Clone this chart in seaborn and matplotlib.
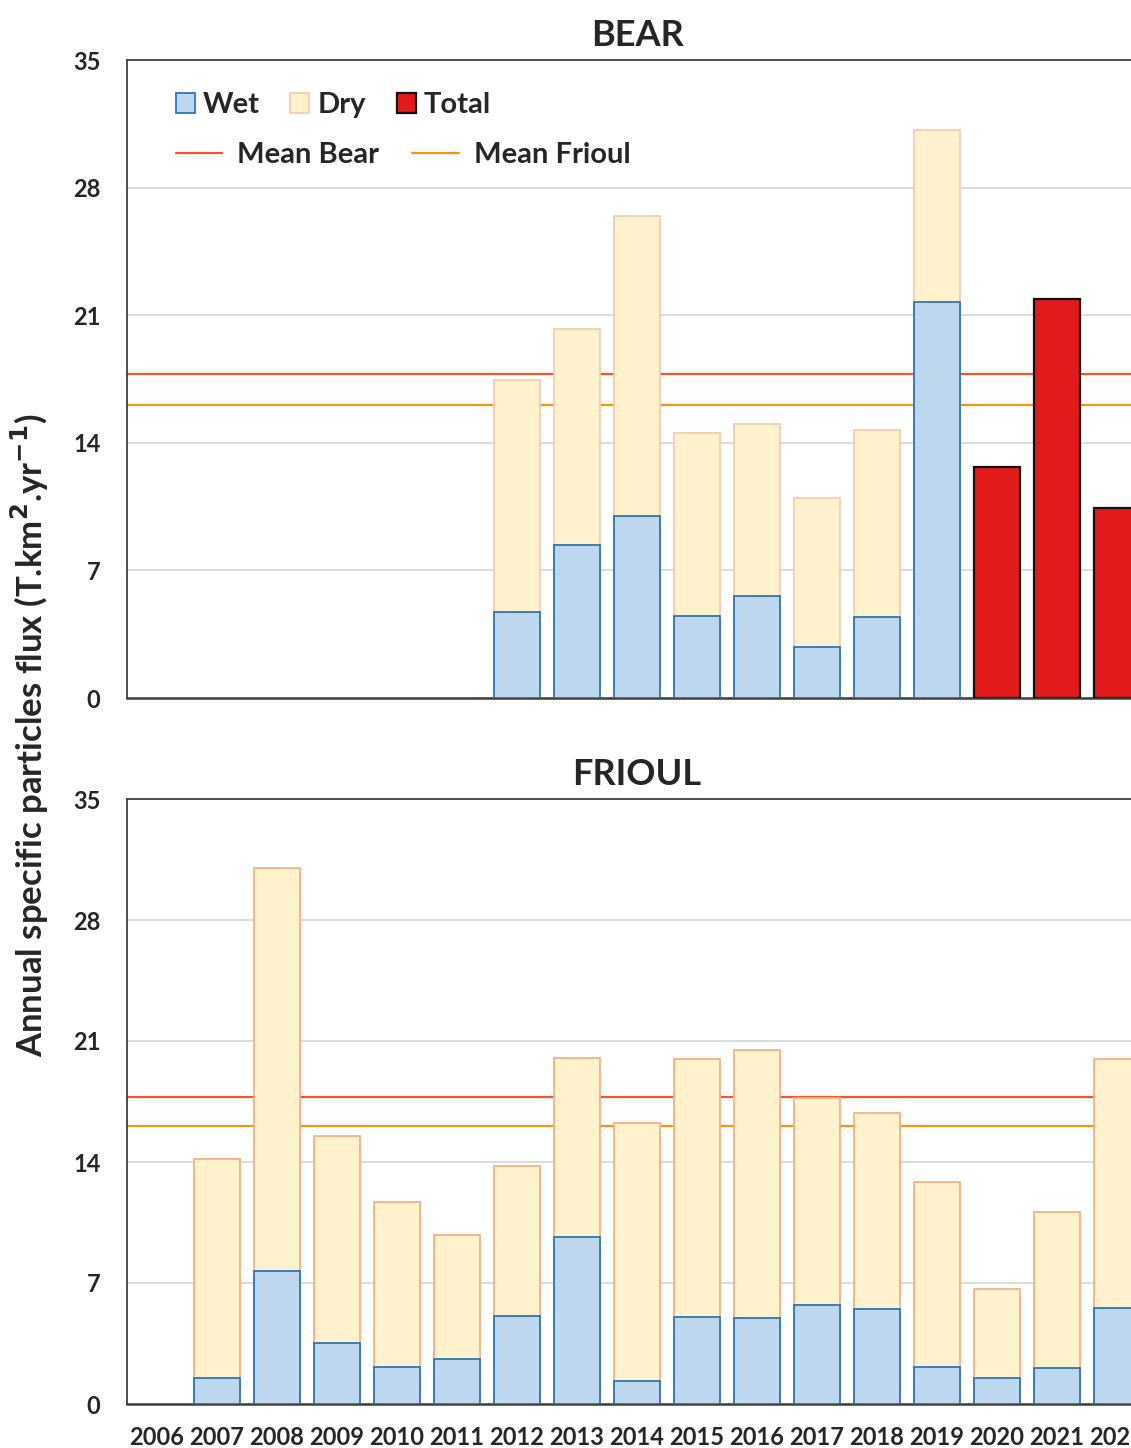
import matplotlib
matplotlib.use("Agg")
import matplotlib.pyplot as plt
import seaborn as sns
import numpy as np
import pandas as pd
from matplotlib.patches import Patch
from matplotlib.lines import Line2D

YEARS = [str(y) for y in range(2006, 2023)]

# BEAR
BEAR_YEARS = ['2012', '2013', '2014', '2015', '2016', '2017', '2018', '2019']
BEAR_WET = [4.72, 8.38, 10.0, 4.48, 5.58, 2.80, 4.45, 21.7]
BEAR_TOTAL = [17.45, 20.25, 26.45, 14.52, 15.02, 10.97, 14.7, 31.15]
BEAR_ONLY_TOTAL_YEARS = ['2020', '2021', '2022']
BEAR_ONLY_TOTAL = [12.67, 21.87, 10.4]

# FRIOUL
FRIOUL_YEARS = [str(y) for y in range(2007, 2023)]
FRIOUL_WET = [1.5, 7.68, 3.55, 2.13, 2.6, 5.1, 9.65, 1.35, 5.05, 5.0, 5.72, 5.5, 2.13, 1.5, 2.1, 5.55]
FRIOUL_TOTAL = [14.2, 31.0, 15.52, 11.67, 9.8, 13.74, 20.0, 16.25, 19.95, 20.5, 17.7, 16.84, 12.85, 6.65, 11.1, 19.95]

MEAN_BEAR = 17.76
MEAN_FRIOUL = 16.06

WET_FILL, WET_EDGE = '#BDD7EE', '#2E75B6'
DRY_FILL, DRY_EDGE = '#FFF2CC', '#F8CBAD'
TOTAL_FILL = '#E31A1C'
MEAN_BEAR_C = '#F0582A'
MEAN_FRIOUL_C = '#F7950F'
GRID_C = '#D9D9D9'
SPINE_C = '#404040'

sns.set_theme(style="white")
plt.rcParams['font.family'] = ['Lato', 'DejaVu Sans']
plt.rcParams['font.weight'] = 'bold'

BAR_W = 0.78
TICK_FS = 17
LEG_FS = 21


def draw_bars(ax, years, values, fill, edge, lw, z):
    df = pd.DataFrame({'year': years, 'value': values})
    sns.barplot(data=df, x='year', y='value', order=YEARS, color=fill, edgecolor=edge,
                linewidth=lw, width=BAR_W, saturation=1, errorbar=None, ax=ax, zorder=z)


def style_axes(ax, title, show_x):
    ax.set_ylim(0, 35)
    ax.set_xlim(-0.5, len(YEARS) - 0.5)
    ax.set_yticks([0, 7, 14, 21, 28, 35])
    ax.set_yticklabels(['0', '7', '14', '21', '28', '35'], fontsize=TICK_FS, fontweight='bold')
    ax.yaxis.grid(True, color=GRID_C, linewidth=1.3, zorder=0)
    ax.xaxis.grid(False)
    ax.set_axisbelow(True)
    ax.tick_params(axis='y', length=0, pad=19)
    ax.tick_params(axis='x', length=0, pad=16)
    ax.set_xlabel('')
    ax.set_ylabel('')
    if show_x:
        ax.set_xticks(range(len(YEARS)))
        ax.set_xticklabels(YEARS, fontsize=TICK_FS, fontweight='bold')
    else:
        ax.set_xticklabels([])
    for s in ['left', 'top', 'bottom']:
        ax.spines[s].set_color(SPINE_C)
        ax.spines[s].set_linewidth(1.3)
    ax.spines['bottom'].set_linewidth(1.8)
    ax.spines['right'].set_visible(False)
    ax.set_title(title, fontsize=26, fontweight='bold', pad=10)
    ax.axhline(MEAN_BEAR, color=MEAN_BEAR_C, linewidth=1.6, zorder=1)
    ax.axhline(MEAN_FRIOUL, color=MEAN_FRIOUL_C, linewidth=1.6, zorder=1)


fig = plt.figure(figsize=(11.31, 14.48), dpi=100)
ax1 = fig.add_axes([127 / 1131, 1 - 698 / 1448, 1020 / 1131, 638 / 1448])
ax2 = fig.add_axes([127 / 1131, 1 - 1404 / 1448, 1020 / 1131, 605 / 1448])

# top panel
draw_bars(ax1, BEAR_YEARS, BEAR_TOTAL, DRY_FILL, DRY_EDGE, 1.3, 2)
draw_bars(ax1, BEAR_YEARS, BEAR_WET, WET_FILL, WET_EDGE, 1.3, 3)
draw_bars(ax1, BEAR_ONLY_TOTAL_YEARS, BEAR_ONLY_TOTAL, TOTAL_FILL, '#111111', 1.6, 3)
style_axes(ax1, 'BEAR', False)

# bottom panel
draw_bars(ax2, FRIOUL_YEARS, FRIOUL_TOTAL, DRY_FILL, '#F4B183', 1.3, 2)
draw_bars(ax2, FRIOUL_YEARS, FRIOUL_WET, WET_FILL, WET_EDGE, 1.3, 3)
style_axes(ax2, 'FRIOUL', True)

# legends
h1 = [Patch(facecolor=WET_FILL, edgecolor=WET_EDGE, linewidth=1.3),
      Patch(facecolor=DRY_FILL, edgecolor=DRY_EDGE, linewidth=1.3),
      Patch(facecolor=TOTAL_FILL, edgecolor='#111111', linewidth=1.6)]
leg1 = ax1.legend(h1, ['Wet', 'Dry', 'Total'], ncol=3, loc='center left',
                  bbox_to_anchor=(0.022, 0.929), frameon=False,
                  prop={'size': LEG_FS, 'weight': 'bold'}, handlelength=0.65, handleheight=0.65,
                  handletextpad=0.28, columnspacing=1.05)
ax1.add_artist(leg1)
h2 = [Line2D([], [], color=MEAN_BEAR_C, linewidth=1.6),
      Line2D([], [], color=MEAN_FRIOUL_C, linewidth=1.6)]
ax1.legend(h2, ['Mean Bear', 'Mean Frioul'], ncol=2, loc='center left',
           bbox_to_anchor=(0.022, 0.851), frameon=False,
           prop={'size': LEG_FS, 'weight': 'bold'}, handlelength=1.6,
           handletextpad=0.5, columnspacing=1.15)

fig.text(0.026, 0.492, 'Annual specific particles flux (T.km$^{\\mathbf{2}}$.yr$^{\\mathbf{-1}}$)',
         rotation=90, ha='center', va='center', fontsize=25, fontweight='bold')

fig.savefig('out.png', dpi=100)
